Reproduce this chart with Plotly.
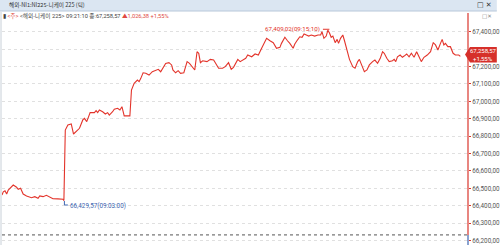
import plotly.graph_objects as go

# ---- data (tick chart: horizontal tick position, price) ----
tick_pos = [2, 3.3, 5, 6.7, 8.3, 13.3, 16.7, 18.3, 20.7, 23.3, 26.7, 31.7, 35, 38.3, 40, 43.3,
            46.7, 50, 53.3, 58.3, 63.3, 64.3, 65.7, 68.3, 71.7, 74, 78.3, 80, 83.3, 85, 87.3,
            89.3, 90.7, 95, 96.7, 98.3, 100, 103.3, 106, 108.3, 110, 113.3, 115, 118.3, 120.7,
            122.7, 124, 125, 128.3, 130.7, 132.3, 135, 138.3, 140, 141.7, 144, 146.7, 150,
            153.3, 156.7, 159.3, 161.7, 164, 166.7, 170, 172.7, 174, 176.7, 179.3, 181.7, 185,
            188.3, 190.7, 193.3, 196, 198.3, 200, 201.7, 204, 208.3, 211.7, 215, 217.3, 220,
            224, 226.7, 230, 232.7, 235, 237.3, 239.3, 241.7, 245, 247.3, 249.3, 253.3, 256.7,
            260, 263.3, 266.7, 268.3, 271.7, 275, 278.3, 281.7, 283.3, 286.7, 289.3, 291.7,
            295, 296.7, 299.3, 301.7, 304, 306, 308.3, 310.7, 313.3, 316.7, 320, 322.7, 324,
            326, 328.3, 330, 331.7, 333.3, 335, 336, 337.3, 339.3, 340.7, 342.7, 345, 346.7,
            348.3, 350, 351.7, 355, 357.3, 360, 361.7, 363.3, 366.7, 369.3, 371.7, 375, 377.3,
            380, 382.7, 385, 386.7, 389.3, 391.7, 395, 396.7, 398.3, 400, 402.7, 405, 406.7,
            409.3, 411.7, 414, 416.7, 419.3, 421.7, 424, 426.7, 430, 433.3, 436, 438.3, 440.7,
            443.3, 445, 446.7, 448.3, 450.7, 453.3, 456, 458.3, 461.7, 463.3]
price = [66462, 66480, 66486, 66467, 66490, 66519, 66506, 66494, 66500, 66467, 66456, 66446,
         66452, 66443, 66456, 66452, 66460, 66452, 66440, 66439, 66437, 66429.57, 66835, 66864,
         66870, 66812, 66835, 66845, 66893, 66902, 66883, 66912, 66935, 66935, 66946, 66935,
         66950, 66940, 66927, 66935, 66921, 66940, 66954, 66960, 66950, 66969, 66946, 66916,
         66916, 66916, 67065, 67103, 67122, 67113, 67132, 67164, 67161, 67151, 67170, 67180,
         67184, 67170, 67190, 67218, 67222, 67209, 67180, 67164, 67176, 67161, 67164, 67228,
         67218, 67199, 67180, 67285, 67276, 67222, 67233, 67228, 67241, 67237, 67218, 67190,
         67190, 67199, 67222, 67184, 67195, 67218, 67241, 67228, 67237, 67247, 67266, 67256,
         67272, 67266, 67305, 67348, 67362, 67348, 67337, 67305, 67310, 67333, 67368, 67348,
         67333, 67305, 67329, 67352, 67371, 67368, 67387, 67381, 67375, 67381, 67375, 67381,
         67381, 67400, 67362, 67375, 67409.02, 67391, 67368, 67375, 67352, 67337, 67356, 67333,
         67362, 67381, 67348, 67314, 67276, 67241, 67199, 67190, 67228, 67241, 67218, 67170,
         67180, 67209, 67228, 67237, 67218, 67247, 67285, 67276, 67247, 67228, 67233, 67241,
         67228, 67256, 67266, 67253, 67260, 67272, 67256, 67276, 67253, 67285, 67256, 67228,
         67253, 67266, 67285, 67337, 67324, 67295, 67333, 67356, 67324, 67333, 67314, 67314,
         67276, 67266, 67266, 67258.57]

y_ticks = [66200, 66300, 66400, 66500, 66600, 66700, 66800, 66900, 67000, 67100, 67200, 67300, 67400]
# 67,300 label is hidden behind the last-price tag in the reference
y_ticktext = ["66,200,00", "66,300,00", "66,400,00", "66,500,00", "66,600,00", "66,700,00",
              "66,800,00", "66,900,00", "67,000,00", "67,100,00", "67,200,00", "",
              "67,400,00"]

prev_close = 66232.19
last_price = 67258.57
max_price, max_pos, max_label = 67409.02, 330, "67,409,02(09:15:10)"
min_price, min_pos, min_label = 66429.57, 64.3, "66,429,57(09:03:00)"
window_title = "해외-NI1:NI225-니케이 225 (틱)"
tag_price, tag_change = "67,258,57", "+1,55%"

# ---- layout geometry ----
W, H = 500, 245
L, R, T, B = 2, 29, 13, 0
PW, PH = W - L - R, H - T - B
Y_RANGE = [66174.2, 67507.5]
X_RANGE = [2, 471]


def px(x):
    return (x - L) / PW


def py(y):
    return 1 - (y - T) / PH


RED = "#e3342b"
BLUE = "#3d64b0"
NUM_FONT = "Roboto, sans-serif"
KR_FONT = "Noto Sans CJK KR, sans-serif"

fig = go.Figure()
fig.add_trace(go.Scatter(x=tick_pos, y=price, mode="lines",
                         line=dict(color=RED, width=1.1), hoverinfo="skip"))

shapes = [
    # title bar
    dict(type="rect", xref="paper", yref="paper", x0=px(0), x1=px(W), y0=py(0), y1=py(11),
         fillcolor="#dbe6f2", line=dict(width=0), layer="below"),
    dict(type="line", xref="paper", yref="paper", x0=px(0), x1=px(W), y0=py(11), y1=py(11),
         line=dict(color="#b8c8da", width=1)),
    # left border
    dict(type="line", xref="paper", yref="paper", x0=px(1), x1=px(1), y0=py(12), y1=py(H),
         line=dict(color="#c8d0d8", width=1)),
    # previous close reference line
    dict(type="line", xref="x", yref="y", x0=X_RANGE[0], x1=X_RANGE[1], y0=prev_close,
         y1=prev_close, line=dict(color="#555555", width=1, dash="dot")),
    # right axis line: red above prev close, blue below
    dict(type="line", xref="paper", yref="y", x0=1, x1=1, y0=prev_close, y1=Y_RANGE[1],
         line=dict(color="#d9352c", width=1.2)),
    dict(type="line", xref="paper", yref="y", x0=1, x1=1, y0=Y_RANGE[0], y1=prev_close,
         line=dict(color=BLUE, width=1.2)),
    # max marker line
    dict(type="line", xref="x", yref="y", x0=max_pos - 5, x1=max_pos + 1.5, y0=max_price + 5,
         y1=max_price + 5, line=dict(color=RED, width=1)),
    # min marker L
    dict(type="path", xref="paper", yref="paper",
         path=f"M {px(min_pos + 0.5)},{py(201)} L {px(min_pos + 0.5)},{py(205)} L {px(min_pos + 4)},{py(205)}",
         line=dict(color=BLUE, width=1)),
    # price tag
    dict(type="path", xref="paper", yref="paper",
         path=(f"M {px(468)},{py(54.5)} L {px(473)},{py(47)} L {px(500)},{py(47)} "
               f"L {px(500)},{py(62.5)} L {px(473)},{py(62.5)} Z"),
         fillcolor="#d6302a", line=dict(width=0), layer="above"),
]

annotations = [
    dict(xref="paper", yref="paper", x=px(7), y=py(5.5), xanchor="left", yanchor="middle",
         text=window_title, showarrow=False, font=dict(family=KR_FONT, size=5.6, color="#333")),
    dict(xref="paper", yref="paper", x=px(497), y=py(5.5), xanchor="right", yanchor="middle",
         text="□ ✕", showarrow=False, font=dict(family="DejaVu Sans", size=7, color="#333")),
    dict(xref="paper", yref="paper", x=px(497), y=py(15.5), xanchor="right", yanchor="middle",
         text="□✕", showarrow=False, font=dict(family="DejaVu Sans", size=5.5, color="#888")),
    dict(xref="paper", yref="paper", x=px(1), y=py(15.5), xanchor="left", yanchor="middle",
         text=("▮ <span style='color:#e04a44'>&lt;주&gt;</span> &lt;해외-니케이 225&gt; 09:21:10 "
               "종:67,258,57 <span style='color:#e04a44'>▲1,026,38 +1,55%</span>"),
         showarrow=False, font=dict(family="Roboto, Noto Sans CJK KR, sans-serif", size=5.7, color="#444")),
    dict(x=max_pos - 5.5, y=max_price + 5, xanchor="right", yanchor="middle", text=max_label,
         showarrow=False, font=dict(family=NUM_FONT, size=6.2, color=RED)),
    dict(xref="paper", yref="paper", x=px(min_pos + 4), y=py(205.5), xanchor="left",
         yanchor="middle", text=min_label, showarrow=False,
         font=dict(family=NUM_FONT, size=6.3, color=BLUE)),
    dict(xref="paper", yref="paper", x=px(486.5), y=py(51), xanchor="center", yanchor="middle",
         text=tag_price, showarrow=False, font=dict(family=NUM_FONT, size=6, color="white")),
    dict(xref="paper", yref="paper", x=px(486.5), y=py(58.5), xanchor="center", yanchor="middle",
         text=tag_change, showarrow=False, font=dict(family=NUM_FONT, size=6, color="white")),
]

fig.update_layout(
    width=W, height=H, margin=dict(l=L, r=R, t=T, b=B, pad=0),
    paper_bgcolor="white", plot_bgcolor="white", showlegend=False,
    shapes=shapes, annotations=annotations,
    xaxis=dict(range=X_RANGE, visible=False, fixedrange=True),
    yaxis=dict(range=Y_RANGE, side="right", tickvals=y_ticks, ticktext=y_ticktext,
               tickfont=dict(family=NUM_FONT, size=6.3, color="#555"),
               ticks="outside", ticklen=2, tickcolor="#d9352c",
               showgrid=True, gridcolor="#e0e0e0", griddash="dot", gridwidth=1,
               zeroline=False, showline=False, fixedrange=True),
)

fig.write_html("out.html")
